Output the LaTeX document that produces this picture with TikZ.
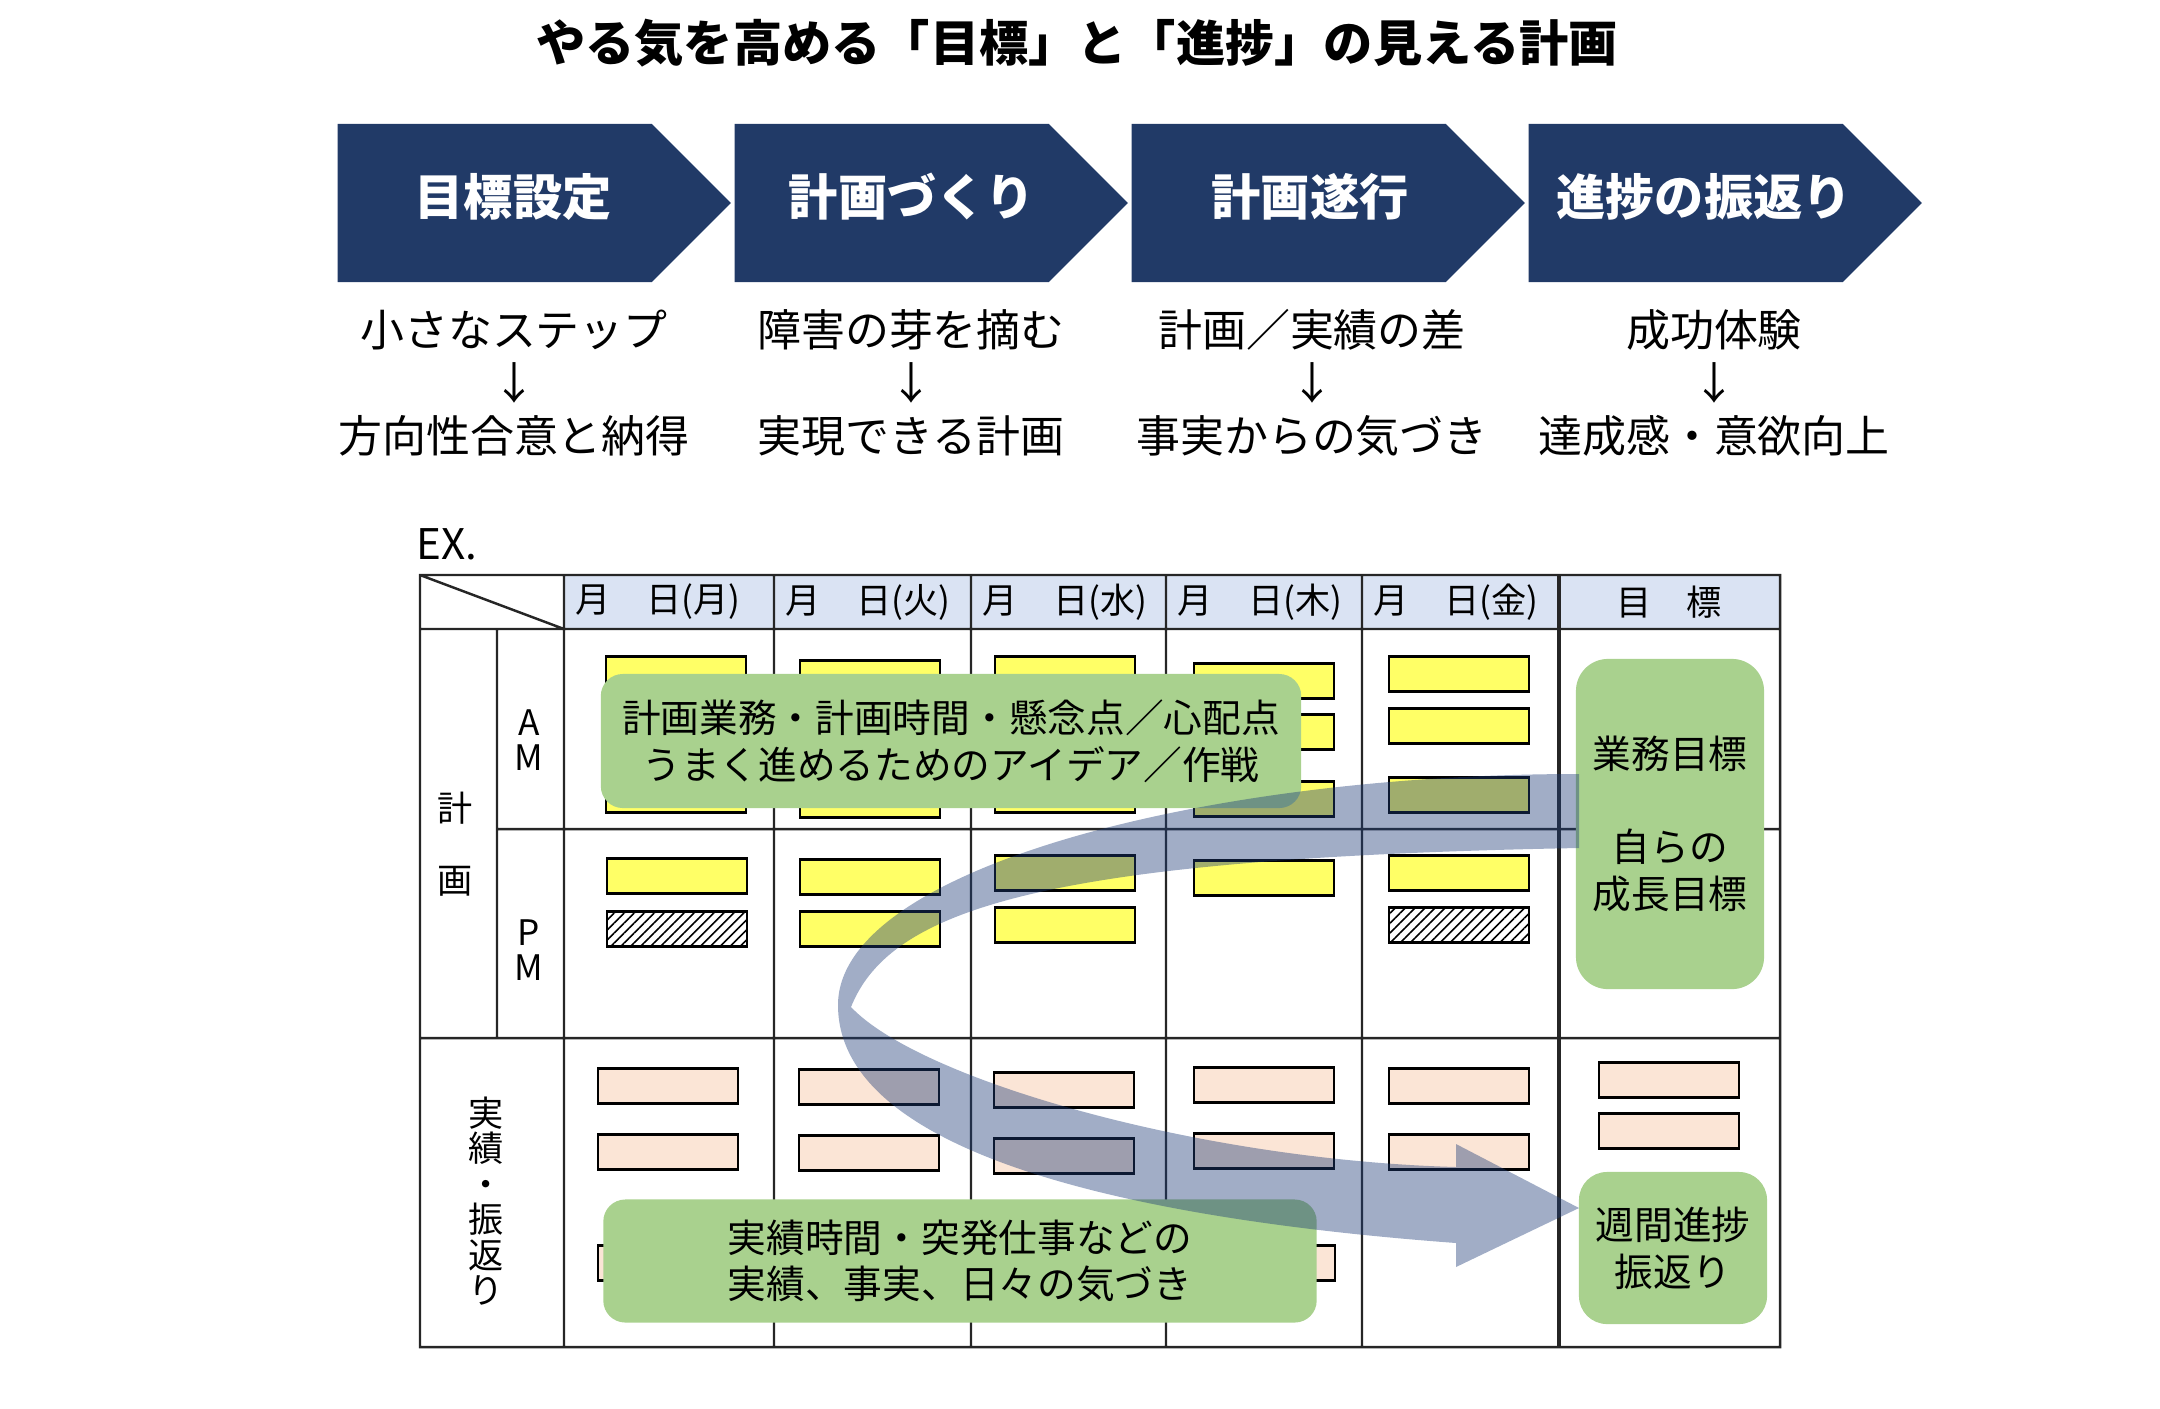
\documentclass[tikz,border=0pt]{standalone}
\usepackage{fontspec}
\setmainfont{Noto Sans CJK JP}
\usepackage{xcolor}
\definecolor{navy}{HTML}{213A67}
\definecolor{headblue}{HTML}{DAE3F3}
\definecolor{stickyyellow}{HTML}{FFFF66}
\definecolor{stickypeach}{HTML}{FBE5D6}
\definecolor{notegreen}{HTML}{A9D18E}
\definecolor{flowblue}{HTML}{1E3C78}
\usepackage{tikz}
\usetikzlibrary{positioning, shapes.symbols, shapes.misc, patterns.meta}

\begin{document}
\begin{tikzpicture}[x=0.01cm, y=-0.01cm,
  title/.style={font=\fontsize{14}{16}\selectfont\bfseries},
  phase/.style={
    signal, signal to=east, signal pointer angle=90,
    fill=navy, anchor=west,
    minimum width=3.93cm, minimum height=1.58cm
  },
  phasetext/.style={text=white, font=\fontsize{14}{16}\selectfont\bfseries, inner sep=0pt},
  effect/.style={align=center, font=\fontsize{12.5}{15.1}\selectfont},
  grid/.style={line width=0.7pt, black!85},
  dayhead/.style={font=\fontsize{10}{12}\selectfont, inner sep=0pt},
  rowhead/.style={align=center, font=\fontsize{10}{10.1}\selectfont, inner sep=0pt},
  sticky/.style={
    chamfered rectangle, chamfered rectangle corners=south east,
    chamfered rectangle xsep=0.06cm, chamfered rectangle ysep=0.06cm,
    draw=black, line width=0.8pt, inner sep=0pt,
    minimum width=1.4cm, minimum height=0.35cm
  },
  plan/.style={sticky, fill=stickyyellow},
  spare/.style={sticky, pattern={Lines[angle=45, distance=2pt, line width=0.45pt]}},
  done/.style={sticky, fill=stickypeach},
  note/.style={
    fill=notegreen, rounded corners=0.22cm, align=center,
    font=\fontsize{11}{13.3}\selectfont, inner sep=0pt
  },
  flow/.style={fill=flowblue, fill opacity=0.42}
]
\useasboundingbox (0,0) rectangle (2160,1408);

% ---- Titre ----
\node[title] (title) at (1077,43) {やる気を高める「目標」と「進捗」の見える計画};

% ---- Phases ----
\node[phase] (goal) at (337,203) {};
\node[phase] (make) at (734,203) {};
\node[phase] (run)  at (1131,203) {};
\node[phase] (look) at (1528,203) {};
\node[phasetext] (goaltext) at (513,197) {目標設定};
\node[phasetext] (maketext) at (912,197) {計画づくり};
\node[phasetext] (runtext)  at (1310,197) {計画遂行};
\node[phasetext] (looktext) at (1704,197) {進捗の振返り};

\node[effect] (eff1) at (514,383) {小さなステップ\\↓\\方向性合意と納得};
\node[effect] (eff2) at (911,383) {障害の芽を摘む\\↓\\実現できる計画};
\node[effect] (eff3) at (1312,383) {計画／実績の差\\↓\\事実からの気づき};
\node[effect] (eff4) at (1714,383) {成功体験\\↓\\達成感・意欲向上};

% ---- Tableau ----
\node[anchor=west, font=\fontsize{12}{14}\selectfont, inner sep=0pt] (ex) at (416,544) {EX.};

\fill[headblue] (564,575) rectangle (1780,629);
\draw[grid] (420,575) rectangle (1780,1347)
  (420,629) -- (1780,629)
  (497,829) -- (1780,829)
  (420,1038) -- (1780,1038)
  (497,629) -- (497,1038)
  (564,575) -- (564,1347)
  (774,575) -- (774,1347)
  (971,575) -- (971,1347)
  (1166,575) -- (1166,1347)
  (1362,575) -- (1362,1347)
  (420,575) -- (564,629);
\draw[grid, line width=1.2pt] (1559,575) -- (1559,1347);

\node[dayhead, anchor=west] (mon) at (575,602) {月　日(月)};
\node[dayhead, anchor=west] (tue) at (785,602) {月　日(火)};
\node[dayhead, anchor=west] (wed) at (982,602) {月　日(水)};
\node[dayhead, anchor=west] (thu) at (1177,602) {月　日(木)};
\node[dayhead, anchor=west] (fri) at (1373,602) {月　日(金)};
\node[dayhead] (aim) at (1669,602) {目　標};

\node[rowhead, font=\fontsize{10}{20.5}\selectfont] (plan) at (455,844) {計\\画};
\node[rowhead] (am) at (529,740) {A\\M};
\node[rowhead] (pm) at (529,950) {P\\M};
\node[rowhead] (result) at (486,1201) {実\\績\\・\\振\\返\\り};

% ---- Fiches ----
% lundi
\node[plan] (monA1) at (676,674) {};
\node[plan] (monA3) at (676,795) {};
\node[plan] (monP1) at (677,876) {};
\node[spare] (monP2) at (677,929) {};
\node[done] (monR1) at (668,1086) {};
\node[done] (monR2) at (668,1152) {};
\node[done] (monR3) at (668,1263) {};
% mardi
\node[plan] (tueA1) at (870,678) {};
\node[plan] (tueA3) at (870,800) {};
\node[plan] (tueP1) at (870,877) {};
\node[plan] (tueP2) at (870,929) {};
\node[done] (tueR1) at (869,1087) {};
\node[done] (tueR2) at (869,1153) {};
% mercredi
\node[plan] (wedA1) at (1065,674) {};
\node[plan] (wedA3) at (1065,795) {};
\node[plan] (wedP1) at (1065,873) {};
\node[plan] (wedP2) at (1065,925) {};
\node[done] (wedR1) at (1064,1090) {};
\node[done] (wedR2) at (1064,1156) {};
% jeudi
\node[plan] (thuA1) at (1264,681) {};
\node[plan] (thuA2) at (1264,732) {};
\node[plan] (thuA3) at (1264,799) {};
\node[plan] (thuP1) at (1264,878) {};
\node[done] (thuR1) at (1264,1085) {};
\node[done] (thuR2) at (1264,1151) {};
\node[done] (thuR3) at (1265,1263) {};
% vendredi
\node[plan] (friA1) at (1459,674) {};
\node[plan] (friA2) at (1459,726) {};
\node[plan] (friA3) at (1459,795) {};
\node[plan] (friP1) at (1459,873) {};
\node[spare] (friP2) at (1459,925) {};
\node[done] (friR1) at (1459,1086) {};
\node[done] (friR2) at (1459,1152) {};
% objectif
\node[done] (aimR1) at (1669,1080) {};
\node[done] (aimR2) at (1669,1131) {};

% ---- Bulles ----
\node[note, minimum width=7cm, minimum height=1.34cm] (plannote) at (951,741)
  {計画業務・計画時間・懸念点／心配点\\うまく進めるためのアイデア／作戦};
\node[note, minimum width=7.13cm, minimum height=1.23cm] (donenote) at (960,1261)
  {実績時間・突発仕事などの\\実績、事実、日々の気づき};
\node[note, rounded corners=0.32cm, minimum width=1.88cm, minimum height=3.3cm] (aimnote) at (1670,824)
  {業務目標\\[13.3pt]自らの\\成長目標};
\node[note, rounded corners=0.28cm, minimum width=1.88cm, minimum height=1.52cm] (weeknote) at (1673,1248)
  {週間進捗\\振返り};

% ---- Fleche courbe ----
\fill[flow] (1579,774) .. controls (1200,774) and (838,870) .. (838,1005)
  .. controls (838,1140) and (1080,1215) .. (1456,1243)
  -- (1456,1267) -- (1579,1208) -- (1456,1144) -- (1456,1167)
  .. controls (1200,1160) and (920,1080) .. (851,1007)
  .. controls (890,910) and (1040,858) .. (1579,848) -- cycle;

\end{tikzpicture}
\end{document}
